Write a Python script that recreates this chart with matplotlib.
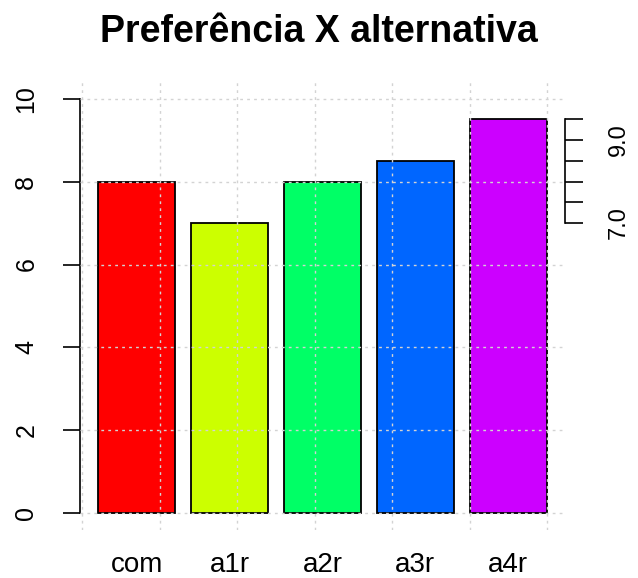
import matplotlib
matplotlib.use('Agg')
import matplotlib.pyplot as plt

plt.rcParams['font.family'] = ['Liberation Sans', 'DejaVu Sans']

categorias = ['com', 'a1r', 'a2r', 'a3r', 'a4r']
valores = [8, 7, 8, 8.5, 9.5]
cores = ['#FF0000', '#CCFF00', '#00FF66', '#0066FF', '#CC00FF']
y_ticks = [0, 2, 4, 6, 8, 10]
dir_ticks = [7.0, 7.5, 8.0, 8.5, 9.0, 9.5]
dir_labels = ['7.0', '', '', '', '9.0', '']

fig = plt.figure(figsize=(6.38, 5.78), dpi=100)
ax = fig.add_axes([80/638, 1-530/578, 485/638, 448/578])

# barplot estilo R: largura 1, espaco 0.2
pos = [0.7 + 1.2*i for i in range(len(valores))]
ax.bar(pos, valores, width=1.0, color=cores, edgecolor='black', linewidth=1.3, zorder=2)

ax.set_xlim(-0.032, 6.232)
ax.set_ylim(-0.4, 10.4)

# grid pontilhado por cima das barras
for gx in range(0, 7):
    ax.axvline(gx, color='#D3D3D3', linestyle=(0, (2, 3)), linewidth=1, zorder=3)
for gy in y_ticks:
    ax.axhline(gy, color='#D3D3D3', linestyle=(0, (2, 3)), linewidth=1, zorder=3)

for s in ['top', 'right', 'bottom']:
    ax.spines[s].set_visible(False)
ax.spines['left'].set_bounds(0, 10)
ax.spines['left'].set_linewidth(1.2)
ax.set_yticks(y_ticks)
ax.set_yticklabels([str(v) for v in y_ticks], rotation=90, va='center', fontsize=18)
ax.tick_params(axis='y', direction='out', length=12, width=1.2, pad=18)
ax.set_xticks(pos)
ax.set_xticklabels(categorias, fontsize=20)
ax.tick_params(axis='x', length=0, pad=16)

ax2 = ax.twinx()
ax2.set_ylim(ax.get_ylim())
for s in ['top', 'left', 'bottom']:
    ax2.spines[s].set_visible(False)
ax2.spines['right'].set_bounds(7.0, 9.5)
ax2.spines['right'].set_linewidth(1.2)
ax2.set_yticks(dir_ticks)
ax2.set_yticklabels(dir_labels, rotation=90, va='center', fontsize=17)
ax2.tick_params(axis='y', direction='out', length=13, width=1.2, pad=18)

fig.text(0.5, 1-42/578, 'Preferência X alternativa', ha='center', va='baseline',
         fontsize=27, fontweight='bold')

fig.savefig('out.png', dpi=100)
